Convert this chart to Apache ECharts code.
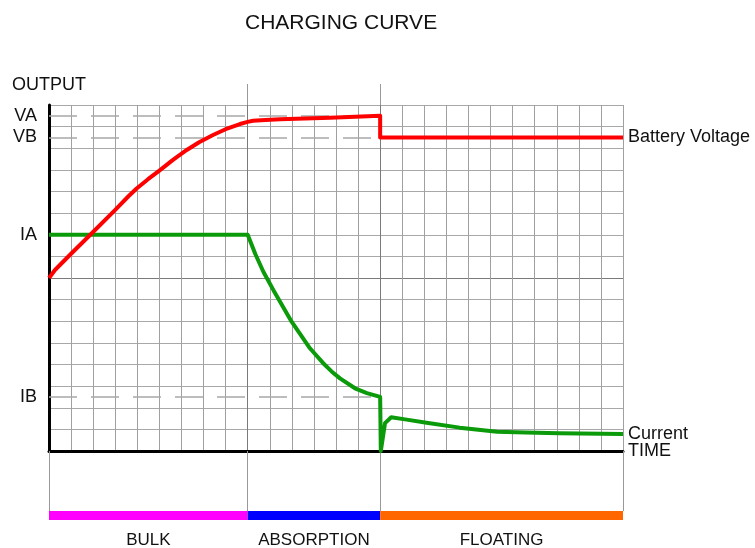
<!DOCTYPE html>
<html><head><meta charset="utf-8">
<script src="https://cdn.jsdelivr.net/npm/echarts@6/dist/echarts.min.js"></script>
<style>html,body{margin:0;padding:0;background:#fff}#c{width:755px;height:548px}</style>
</head><body><div id="c"></div><script>
// ---- data ----
const voltX = [0, 0.27, 1, 1.86, 2.99, 3.6, 3.97, 4.5, 5.03, 5.6, 6.24, 6.8, 7.43, 8.0, 8.65, 9.0, 9.24, 9.6, 10.46, 12.73, 15, 15, 26];
const voltY = [8, 8.37, 9.12, 9.99, 11.14, 11.78, 12.14, 12.58, 12.99, 13.45, 13.92, 14.28, 14.61, 14.88, 15.12, 15.22, 15.27, 15.3, 15.34, 15.41, 15.5, 14.5, 14.5];
const currX = [0, 9, 9.35, 9.71, 10.16, 10.99, 11.82, 12.42, 12.8, 13.18, 13.86, 14.4, 15, 15.03, 15.22, 15.5, 16.2, 17.1, 18.6, 20.3, 21.6, 23.1, 26];
const currY = [10, 10, 9.1, 8.29, 7.45, 5.98, 4.75, 4.06, 3.68, 3.36, 2.9, 2.68, 2.5, 0, 1.29, 1.56, 1.45, 1.31, 1.08, 0.89, 0.85, 0.82, 0.79];
const refLabels = ['VA', 'VB', 'IA', 'IB'];
const refValues = [15.5, 14.5, 10, 2.5];
const refDashed = [true, true, false, true];
const phases = ['BULK', 'ABSORPTION', 'FLOATING'];
const phaseLengths = [9, 6, 11];
const phaseColors = ['#ff00ff', '#0000ff', '#ff6600'];
const xMax = 26, yMax = 16;

const FONT = 'Liberation Sans, Arial, sans-serif';
const bounds = [0];
phaseLengths.forEach((l, i) => bounds.push(bounds[i] + l));
const xLineColors = [];
for (let i = 0; i <= xMax; i++) xLineColors.push(bounds.slice(1, -1).includes(i) ? '#7a7a7a' : '#a0a0a0');
const yLineColors = [];
for (let i = 0; i <= yMax; i++) yLineColors.push(i === yMax / 2 ? '#7a7a7a' : '#a8a8a8');

const refLines = refLabels.map((name, i) => [
  {coord: [0, refValues[i]], name: name,
   lineStyle: refDashed[i] ? {color: '#a8a8a8', width: 1.5, type: [28, 14]} : {color: 'rgba(0,0,0,0)', width: 0}},
  {coord: [bounds[2], refValues[i]]}
]);

const chart = echarts.init(document.getElementById('c'));
chart.setOption({
  animation: false,
  backgroundColor: '#fff',
  textStyle: {fontFamily: FONT},
  title: [
    {text: 'CHARGING CURVE', left: 245, top: 13, padding: 0,
     textStyle: {fontSize: 21, fontWeight: 'normal', color: '#111', fontFamily: FONT}},
    {text: 'OUTPUT', left: 12, top: 76, padding: 0,
     textStyle: {fontSize: 18, fontWeight: 'normal', color: '#111', fontFamily: FONT}}
  ],
  grid: [
    {left: 49, right: 132, top: 105, bottom: 97},
    {left: 49, right: 132, top: 511, height: 9}
  ],
  xAxis: [
    {type: 'value', gridIndex: 0, min: 0, max: xMax, interval: 1,
     name: 'TIME', nameLocation: 'end', nameGap: 5,
     nameTextStyle: {fontSize: 18, color: '#111', fontFamily: FONT},
     axisLine: {show: true, lineStyle: {color: '#000', width: 3}},
     axisTick: {show: false}, axisLabel: {show: false},
     splitLine: {show: true, lineStyle: {color: xLineColors, width: 1}}},
    {type: 'value', gridIndex: 0, min: 0, max: xMax, position: 'bottom',
     axisLine: {show: false}, axisLabel: {show: false}, splitLine: {show: false},
     axisTick: {show: true, customValues: bounds, length: 60, lineStyle: {color: '#999', width: 1}}},
    {type: 'value', gridIndex: 0, min: 0, max: xMax, position: 'top',
     axisLine: {show: false}, axisLabel: {show: false}, splitLine: {show: false},
     axisTick: {show: true, customValues: bounds.slice(1, -1), length: 21, lineStyle: {color: '#999', width: 1}}},
    {type: 'value', gridIndex: 1, min: 0, max: xMax, show: false}
  ],
  yAxis: [
    {type: 'value', gridIndex: 0, min: 0, max: yMax, interval: 1,
     axisLine: {show: true, lineStyle: {color: '#000', width: 3}},
     axisTick: {show: false}, axisLabel: {show: false},
     splitLine: {show: true, lineStyle: {color: yLineColors, width: 1}}},
    {type: 'category', gridIndex: 1, data: ['phase'], show: false}
  ],
  series: [
    {name: 'Current', type: 'line', xAxisIndex: 0, yAxisIndex: 0,
     data: currX.map((x, i) => [x, currY[i]]), showSymbol: false, symbol: 'none',
     lineStyle: {color: '#0a9a0a', width: 4, join: 'round'}, itemStyle: {color: '#0a9a0a'},
     endLabel: {show: true, formatter: '{a}', distance: 5, fontSize: 18, color: '#111', fontFamily: FONT},
     z: 3},
    {name: 'Battery Voltage', type: 'line', xAxisIndex: 0, yAxisIndex: 0,
     data: voltX.map((x, i) => [x, voltY[i]]), showSymbol: false, symbol: 'none',
     lineStyle: {color: '#ff0000', width: 4, join: 'round'}, itemStyle: {color: '#ff0000'},
     endLabel: {show: true, formatter: '{a}', distance: 5, fontSize: 18, color: '#111', fontFamily: FONT},
     markLine: {silent: true, symbol: ['none', 'none'], animation: false, z: 1,
       label: {show: true, position: 'start', distance: 12, formatter: '{b}', fontSize: 18, color: '#111', fontFamily: FONT},
       data: refLines},
     z: 4},
  ].concat(phases.map((p, i) => ({
    name: p, type: 'bar', stack: 'phase', xAxisIndex: 3, yAxisIndex: 1,
    data: [phaseLengths[i]], barWidth: 9,
    itemStyle: {color: phaseColors[i]},
    label: {show: true, position: 'bottom', distance: 12, formatter: p, fontSize: 17, color: '#111', fontFamily: FONT}
  })))
});
</script></body></html>
